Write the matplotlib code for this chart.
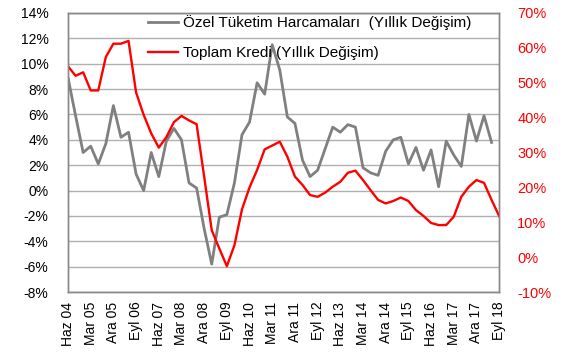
import numpy as np
import matplotlib
matplotlib.use("Agg")
import matplotlib.pyplot as plt

plt.rcParams['font.family'] = ['Liberation Sans', 'DejaVu Sans']

# quarterly, Haz 04 .. Eyl 18
tuketim = [8.9, 5.9, 3.0, 3.5, 2.1, 3.7, 6.7, 4.2, 4.6, 1.3,
           0.0, 3.0, 1.1, 3.9, 4.9, 4.0, 0.6, 0.2, -3.0, -5.8,
           -2.1, -1.9, 0.6, 4.4, 5.4, 8.5, 7.6, 11.5, 9.5, 5.8,
           5.3, 2.4, 1.1, 1.6, 3.3, 5.0, 4.6, 5.2, 5.0, 1.8,
           1.4, 1.2, 3.1, 4.0, 4.2, 2.1, 3.4, 1.6, 3.2, 0.3,
           3.9, 2.8, 1.9, 6.0, 3.9, 5.9, 3.8, np.nan]
kredi = [54.7, 52.0, 53.0, 47.8, 47.8, 57.4, 61.2, 61.2, 62.0, 47.2,
         40.8, 35.5, 31.4, 34.4, 38.7, 40.5, 39.2, 38.1, 23.1, 7.7,
         2.5, -2.6, 3.4, 13.7, 20.0, 25.0, 30.9, 32.0, 33.1, 28.8,
         23.1, 20.7, 17.8, 17.3, 18.5, 20.2, 21.6, 24.2, 24.8, 22.1,
         19.2, 16.4, 15.4, 16.1, 17.1, 16.1, 13.5, 11.8, 9.8, 9.2,
         9.2, 11.6, 17.3, 20.2, 22.1, 21.3, 16.4, 11.8]
etiketler = ['Haz 04', 'Mar 05', 'Ara 05', 'Eyl 06', 'Haz 07', 'Mar 08',
             'Ara 08', 'Eyl 09', 'Haz 10', 'Mar 11', 'Ara 11', 'Eyl 12',
             'Haz 13', 'Mar 14', 'Ara 14', 'Eyl 15', 'Haz 16', 'Mar 17',
             'Ara 17', 'Eyl 18']

x = np.arange(len(kredi))

fig, ax = plt.subplots(figsize=(5.64, 3.57), dpi=100)
fig.subplots_adjust(left=0.1206, right=0.885, top=0.9636, bottom=0.182)
ax2 = ax.twinx()

ax.set_ylim(-8, 14)
ax.set_yticks(np.arange(-8, 15, 2))
ax.set_yticklabels([f"{v}%" for v in range(-8, 15, 2)], fontsize=10)
ax.grid(axis='y', color='#b0b0b0', linewidth=1.0)
ax.set_axisbelow(True)
ax.set_xlim(0, len(kredi) - 1)
ax.set_xticks(x[::3])
ax.set_xticklabels(etiketler, rotation=90, fontsize=10)
ax.tick_params(length=0, pad=7)
ax.tick_params(axis='y', pad=14)

ax2.set_ylim(-10, 70)
ax2.set_yticks(np.arange(-10, 71, 10))
ax2.set_yticklabels([f"{v}%" for v in range(-10, 71, 10)], fontsize=10.5, color='red')
ax2.tick_params(length=0, pad=13)

for a in (ax, ax2):
    for s in a.spines.values():
        s.set_color('#888888')
        s.set_linewidth(1.0)

l1, = ax.plot(x, tuketim, color='#808080', linewidth=2.0,
              label='Özel Tüketim Harcamaları  (Yıllık Değişim)')
l2, = ax2.plot(x, kredi, color='red', linewidth=1.7,
               label='Toplam Kredi (Yıllık Değişim)')

ax2.legend(handles=[l1, l2], loc='upper left', bbox_to_anchor=(0.16, 1.03),
           frameon=False, fontsize=11, handlelength=2.0, handletextpad=0.3,
           labelspacing=1.05, borderaxespad=0.3)

fig.savefig('out.png', dpi=100)
